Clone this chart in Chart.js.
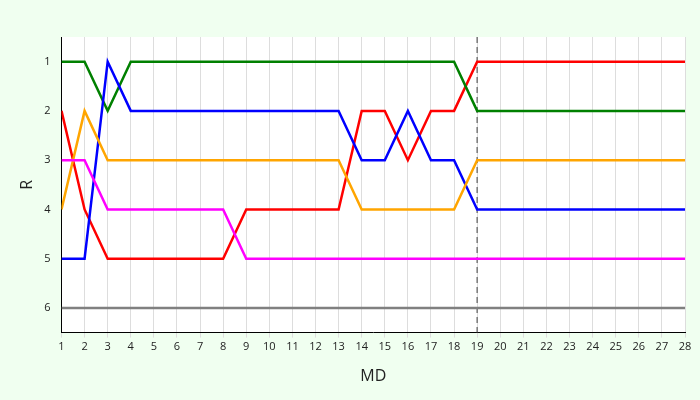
<!DOCTYPE html>
<html>
<head>
<meta charset="utf-8">
<script src="https://cdn.jsdelivr.net/npm/chart.js@4"></script>
<style>
  html, body { margin: 0; background: #f0fff0; }
  #wrap { width: 700px; height: 400px; }
</style>
</head>
<body>
<div id="wrap"><canvas id="chart"></canvas></div>
<script>
// Données
const md = [1,2,3,4,5,6,7,8,9,10,11,12,13,14,15,16,17,18,19,20,21,22,23,24,25,26,27,28];
const greenRank   = [1,1,2,1,1,1,1,1,1,1,1,1,1,1,1,1,1,1,2,2,2,2,2,2,2,2,2,2];
const blueRank    = [5,5,1,2,2,2,2,2,2,2,2,2,2,3,3,2,3,3,4,4,4,4,4,4,4,4,4,4];
const orangeRank  = [4,2,3,3,3,3,3,3,3,3,3,3,3,4,4,4,4,4,3,3,3,3,3,3,3,3,3,3];
const redRank     = [2,4,5,5,5,5,5,5,4,4,4,4,4,2,2,3,2,2,1,1,1,1,1,1,1,1,1,1];
const magentaRank = [3,3,4,4,4,4,4,4,5,5,5,5,5,5,5,5,5,5,5,5,5,5,5,5,5,5,5,5];
const grayRank    = [6,6,6,6,6,6,6,6,6,6,6,6,6,6,6,6,6,6,6,6,6,6,6,6,6,6,6,6];
const markerMD = 19;

function pts(values) {
    return values.map((v, i) => ({ x: md[i], y: v }));
}

function line(values, color) {
    return { data: pts(values), borderColor: color, borderWidth: 2.5, pointRadius: 0, tension: 0, fill: false };
}

// Fond blanc de la zone de tracé
const plotBg = {
    id: "plotBg",
    beforeDraw(chart) {
        const a = chart.chartArea;
        chart.ctx.save();
        chart.ctx.fillStyle = "#ffffff";
        chart.ctx.fillRect(a.left, a.top, a.right - a.left, a.bottom - a.top);
        chart.ctx.restore();
    }
};

new Chart(document.getElementById("chart"), {
    type: "line",
    data: {
        datasets: [
            line(grayRank, "#808080"),
            line(magentaRank, "#ff00ff"),
            line(orangeRank, "#ffa500"),
            line(blueRank, "#0000ff"),
            line(greenRank, "#008000"),
            line(redRank, "#ff0000"),
            {
                data: [{ x: markerMD, y: 0.5 }, { x: markerMD, y: 6.5 }],
                borderColor: "#777777", borderWidth: 1.5, borderDash: [6, 4],
                pointRadius: 0, fill: false
            }
        ]
    },
    options: {
        responsive: true,
        maintainAspectRatio: false,
        animation: false,
        layout: { padding: { left: 14, right: 15, top: 37, bottom: 14 } },
        plugins: { legend: { display: false }, tooltip: { enabled: false } },
        scales: {
            x: {
                type: "linear", min: 1, max: 28,
                ticks: { stepSize: 1, color: "#222", font: { family: "Open Sans", size: 11 } },
                grid: { color: "#dddddd", drawTicks: true, tickLength: 5 },
                border: { color: "#000", width: 1 },
                title: { display: true, text: "MD", color: "#222", font: { family: "Open Sans", size: 16 }, padding: { top: 10, bottom: 0 } }
            },
            y: {
                reverse: true, min: 0.5, max: 6.5,
                afterBuildTicks(axis) { axis.ticks = [1,2,3,4,5,6].map(v => ({ value: v })); },
                ticks: { color: "#222", font: { family: "Open Sans", size: 11 } },
                grid: { display: false, drawTicks: true },
                border: { color: "#000", width: 1 },
                title: { display: true, text: "R", color: "#222", font: { family: "Open Sans", size: 16 } }
            }
        }
    },
    plugins: [plotBg]
});
</script>
</body>
</html>
